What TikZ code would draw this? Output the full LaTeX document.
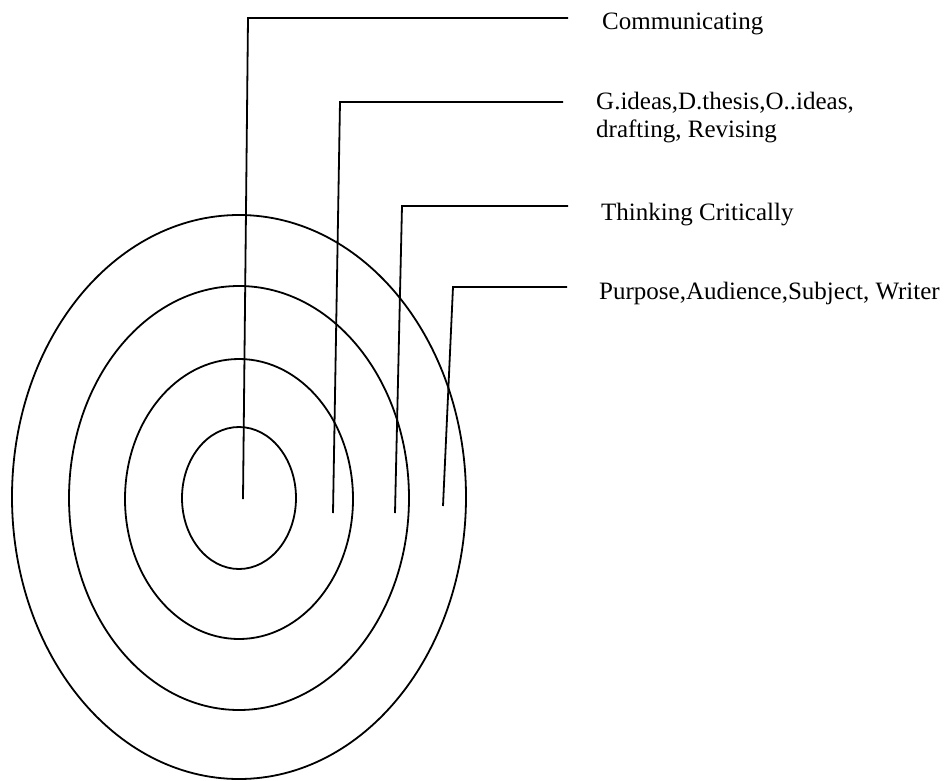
\documentclass[tikz,border=0pt]{standalone}
\usepackage{fontspec}
\setmainfont{Liberation Serif}
\usepackage{tikz}
\usetikzlibrary{positioning}

\begin{document}
\begin{tikzpicture}[
        x=1pt, y=-1pt,
        ring/.style={draw=black, line width=1.8pt},
        leader/.style={draw=black, line width=1.8pt},
        label/.style={anchor=base west, inner sep=0pt, align=left,
            font=\fontsize{25}{28}\selectfont}
    ]
        \useasboundingbox (0,0) rectangle (946,780);

        % Rings
        \draw[ring] (239,497) ellipse [x radius=227pt, y radius=282pt];
        \draw[ring] (239,498) ellipse [x radius=170pt, y radius=212pt];
        \draw[ring] (239,499) ellipse [x radius=114pt, y radius=140pt];
        \draw[ring] (239,498) ellipse [x radius=57pt, y radius=71pt];

        % Leader points
        \coordinate (tipA) at (243,499);
        \coordinate (bendA) at (248,18);
        \coordinate (endA) at (568,18);
        \coordinate (tipB) at (333,513);
        \coordinate (bendB) at (340,102);
        \coordinate (endB) at (563,102);
        \coordinate (tipC) at (395,513);
        \coordinate (bendC) at (402,206);
        \coordinate (endC) at (568,206);
        \coordinate (tipD) at (443,506);
        \coordinate (bendD) at (453,287);
        \coordinate (endD) at (567,287);

        % Labels (base of a two-line label is its last line)
        \node[label] (comm) at (602,29) {Communicating};
        \node[label] (proc) at (596,137) {G.ideas,D.thesis,O..ideas,\\drafting, Revising};
        \node[label] (think) at (601,220) {Thinking Critically};
        \node[label] (pasw) at (599,299) {Purpose,Audience,Subject, Writer};

        % Leaders
        \draw[leader] (tipA) -- (bendA) -- (endA);
        \draw[leader] (tipB) -- (bendB) -- (endB);
        \draw[leader] (tipC) -- (bendC) -- (endC);
        \draw[leader] (tipD) -- (bendD) -- (endD);

    \end{tikzpicture}
\end{document}
